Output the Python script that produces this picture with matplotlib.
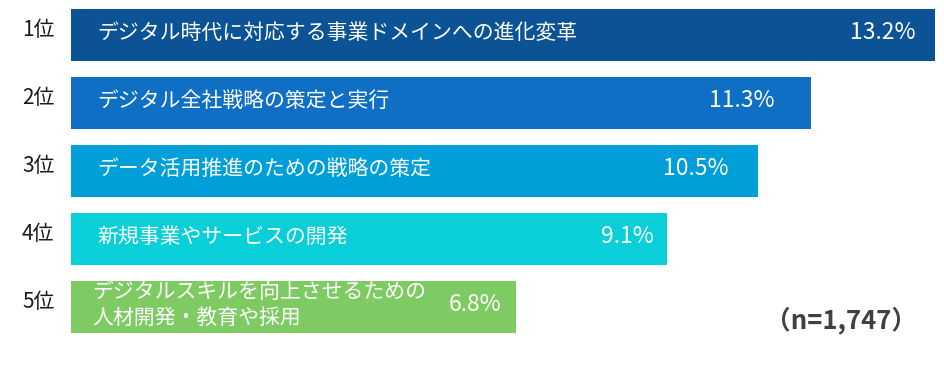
import matplotlib
matplotlib.use("Agg")
import matplotlib.pyplot as plt

plt.rcParams['font.family'] = ['Noto Sans CJK JP', 'DejaVu Sans']

ranks = ["1位", "2位", "3位", "4位", "5位"]
items = [
    "デジタル時代に対応する事業ドメインへの進化変革",
    "デジタル全社戦略の策定と実行",
    "データ活用推進のための戦略の策定",
    "新規事業やサービスの開発",
    "デジタルスキルを向上させるための\n人材開発・教育や採用",
]
values = [13.2, 11.3, 10.5, 9.1, 6.8]
colors = ["#0B5394", "#0E6FC5", "#009FD9", "#09D0D8", "#7FCB63"]
n_label = "（n=1,747）"

W, H = 945, 371
fig = plt.figure(figsize=(W / 100, H / 100), dpi=100)

# axis spans from bar start (71px) to longest bar end (935px)
ax = fig.add_axes([71 / W, 0, 864 / W, 1])
ax.set_xlim(0, max(values))
ax.set_ylim((H - 35) / 68, -35 / 68)
ax.axis("off")

ypos = list(range(len(values)))
ax.barh(ypos, values, height=52 / 68, color=colors)

px = max(values) / 864  # data units per pixel
pct_offsets = [20, 36, 30, 13, 15]
text_x = [26, 26, 26, 26, 21]

for i, (r, name, v) in enumerate(zip(ranks, items, values)):
    ax.text(-49 * px, i - 0.07, r, ha="left", va="center", fontsize=15, color="#1a1a1a")
    ax.text(text_x[i] * px, i - 0.03, name, ha="left", va="center", fontsize=15,
            color="white", linespacing=1.2)
    ax.text(v - pct_offsets[i] * px, i - 0.03, f"{v:.1f}%", ha="right", va="center",
            fontsize=16.5, color="white")

fig.text(917 / W, 1 - 320 / H, n_label, ha="right", va="center", fontsize=18.5,
         fontweight="bold", color="#404040")

fig.savefig("out.png", dpi=100)
